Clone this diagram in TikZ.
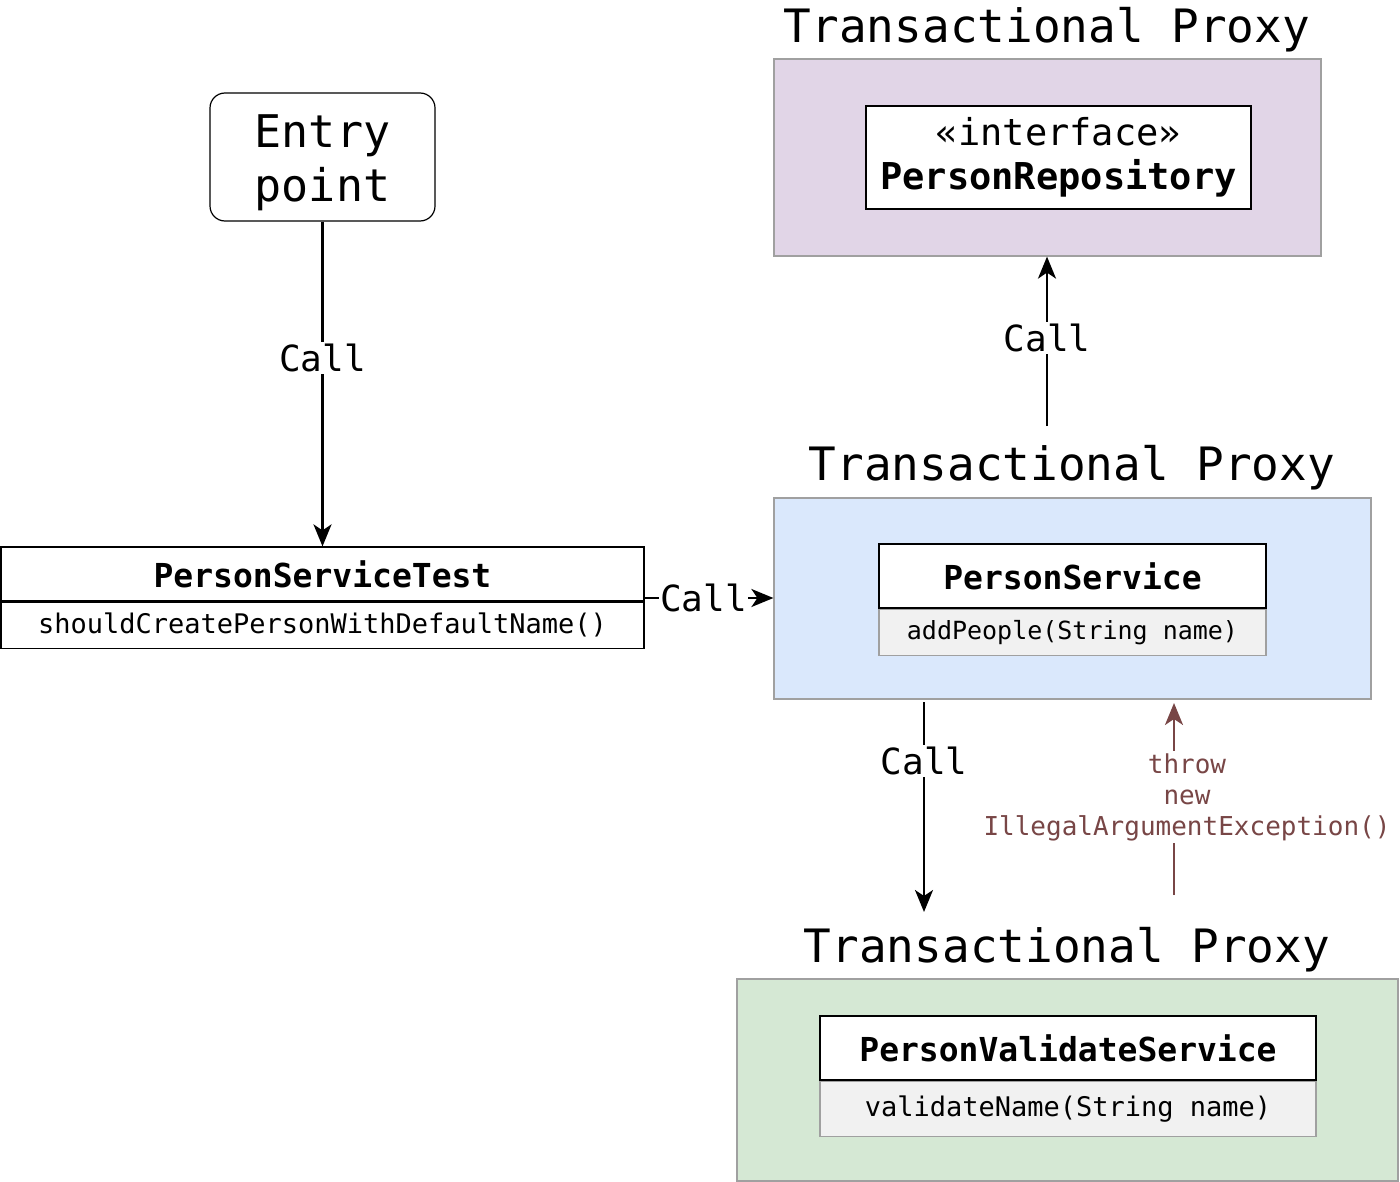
\documentclass[tikz,border=0pt]{standalone}
\usepackage{fontspec}
\setmainfont{DejaVu Sans Mono}
\usetikzlibrary{arrows.meta}
\definecolor{purplefill}{HTML}{E1D5E7}
\definecolor{bluefill}{HTML}{DAE8FC}
\definecolor{greenfill}{HTML}{D5E8D4}
\definecolor{framec}{HTML}{A0A0A0}
\definecolor{throwc}{RGB}{120,70,70}
\definecolor{methfill}{HTML}{F1F1F1}
\begin{document}
\begin{tikzpicture}[x=1pt,y=-1pt,
  proxybox/.style={draw=framec, line width=1.2pt, inner sep=0pt},
  classhead/.style={draw=black, line width=1.2pt, fill=white, inner sep=0pt,
    font=\fontsize{33}{38}\bfseries\selectfont},
  classmeth/.style={draw=black, line width=1.2pt, inner sep=0pt,
    font=\fontsize{27}{32}\selectfont},
  ptitle/.style={inner sep=0pt, font=\fontsize{46}{50}\selectfont},
  calllbl/.style={fill=white, inner sep=2pt, font=\fontsize{36}{40}\selectfont},
  conn/.style={line width=2.4pt, -{Stealth[length=22pt,width=18pt,inset=6pt]}}
]
\useasboundingbox (0,0) rectangle (1400,1182);

% Entry point
\node[draw=black, line width=1.2pt, rounded corners=15pt, minimum width=225pt, minimum height=128pt,
  inner sep=0pt] (entry) at (322.5,157) {};
\node[align=center, inner sep=0pt, font=\fontsize{45}{54}\selectfont] (entrytxt) at (322.5,163) {Entry\\point};

% PersonServiceTest
\node[classhead, minimum width=643pt, minimum height=54pt] (pst) at (322.5,574) {PersonServiceTest};
\node[classmeth, fill=white, minimum width=643pt, minimum height=46pt, anchor=north] (pstm) at (pst.south) {shouldCreatePersonWithDefaultName()};

% Purple proxy
\node[ptitle] (t1) at (1047,30) {Transactional Proxy};
\node[proxybox, fill=purplefill, minimum width=547pt, minimum height=197pt] (purple) at (1047.5,157.5) {};
\node[draw=black, line width=1.2pt, fill=white, minimum width=385pt, minimum height=103pt, inner sep=0pt, align=center,
  font=\fontsize{37}{44}\selectfont]
  (repo) at (1058.5,157.5) {«interface»\\\textbf{PersonRepository}};

% Blue proxy
\node[ptitle] (t2) at (1072,468) {Transactional Proxy};
\node[proxybox, fill=bluefill, minimum width=597pt, minimum height=201pt] (blue) at (1072.5,598.5) {};
\node[classhead, minimum width=387pt, minimum height=64pt] (ps) at (1072.5,576) {PersonService};
\node[classmeth, draw=framec, fill=methfill, minimum width=387pt, minimum height=46pt, anchor=north,
  font=\fontsize{25}{30}\selectfont] (psm) at (ps.south) {addPeople(String name)};

% Green proxy
\node[ptitle] (t3) at (1067,950) {Transactional Proxy};
\node[proxybox, fill=greenfill, minimum width=661pt, minimum height=202pt] (green) at (1067.5,1080) {};
\node[classhead, minimum width=496pt, minimum height=64pt] (pvs) at (1068,1048) {PersonValidateService};
\node[classmeth, draw=framec, fill=methfill, minimum width=496pt, minimum height=55pt, anchor=north] (pvsm) at (pvs.south) {validateName(String name)};

% Connectors
\draw[conn] (entry.south) -- node[calllbl, pos=0.42] (l1) {Call} (pst.north);

\coordinate (c2s) at (644,598);
\draw[conn] (c2s) -- node[calllbl, pos=0.46, inner sep=1pt] (l2) {Call} (blue.west |- c2s);

\coordinate (c3s) at (1047,426);
\draw[conn] (c3s) -- node[calllbl, pos=0.52] (l3) {Call} (purple.south -| c3s);

\coordinate (c4s) at (924,702);
\coordinate (c4e) at (924,912);
\draw[conn] (c4s) -- node[calllbl, pos=0.28] (l4) {Call} (c4e);

\coordinate (c5s) at (1174,895);
\coordinate (c5e) at (1174,703);
\draw[conn, draw=throwc, fill=throwc] (c5s) -- node[fill=white, inner sep=2pt, pos=0.51, xshift=13pt, align=center,
  text=throwc, font=\fontsize{26}{31}\selectfont] (l5) {throw\\new\\IllegalArgumentException()} (c5e);
\end{tikzpicture}
\end{document}
